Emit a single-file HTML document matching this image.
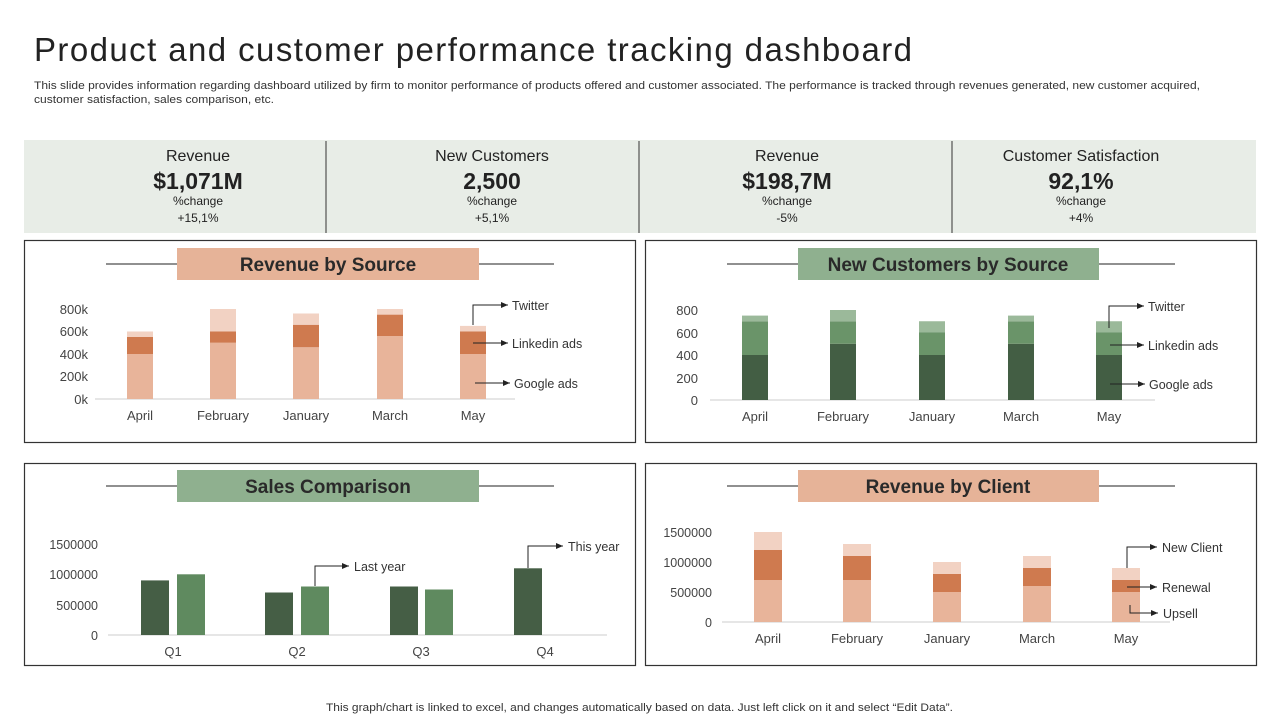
<!DOCTYPE html>
<html><head><meta charset="utf-8"><style>
body{margin:0;background:#fff;}
svg{display:block;font-family:"Liberation Sans",sans-serif;}
</style></head><body>
<svg width="1280" height="720" viewBox="0 0 1280 720" xmlns="http://www.w3.org/2000/svg">
<defs><marker id="ar" markerWidth="8" markerHeight="8" refX="7" refY="4" orient="auto" markerUnits="userSpaceOnUse"><path d="M0,1 L7,4 L0,7 Z" fill="#222"/></marker></defs>
<text x="34" y="61" font-size="33" fill="#222" textLength="878" lengthAdjust="spacing">Product and customer performance tracking dashboard</text>
<text x="34" y="89" font-size="11" fill="#333" textLength="1166" lengthAdjust="spacingAndGlyphs">This slide provides information regarding dashboard utilized by firm to  monitor performance of products offered and customer associated. The performance is tracked through revenues generated, new customer acquired,</text>
<text x="34" y="103" font-size="11" fill="#333" textLength="240" lengthAdjust="spacingAndGlyphs">customer satisfaction, sales comparison, etc.</text>
<rect x="24" y="140" width="1232" height="93" fill="#e8ede7"/>
<g stroke="#333" stroke-width="1"><line x1="326" y1="141" x2="326" y2="233"/><line x1="639" y1="141" x2="639" y2="233"/><line x1="952" y1="141" x2="952" y2="233"/></g>
<g text-anchor="middle" fill="#222">
<text x="198" y="161" font-size="16">Revenue</text><text x="198" y="189" font-size="23" font-weight="bold">$1,071M</text><text x="198" y="205" font-size="12">%change</text><text x="198" y="222" font-size="12">+15,1%</text>
<text x="492" y="161" font-size="16">New Customers</text><text x="492" y="189" font-size="23" font-weight="bold">2,500</text><text x="492" y="205" font-size="12">%change</text><text x="492" y="222" font-size="12">+5,1%</text>
<text x="787" y="161" font-size="16">Revenue</text><text x="787" y="189" font-size="23" font-weight="bold">$198,7M</text><text x="787" y="205" font-size="12">%change</text><text x="787" y="222" font-size="12">-5%</text>
<text x="1081" y="161" font-size="16">Customer Satisfaction</text><text x="1081" y="189" font-size="23" font-weight="bold">92,1%</text><text x="1081" y="205" font-size="12">%change</text><text x="1081" y="222" font-size="12">+4%</text>
</g>
<g fill="none" stroke="#333" stroke-width="1.2">
<rect x="24.5" y="240.5" width="611" height="202"/><rect x="645.5" y="240.5" width="611" height="202"/>
<rect x="24.5" y="463.5" width="611" height="202"/><rect x="645.5" y="463.5" width="611" height="202"/>
</g>
<g stroke="#222" stroke-width="1">
<line x1="106" y1="264" x2="190" y2="264"/><line x1="473" y1="264" x2="554" y2="264"/>
<line x1="727" y1="264" x2="811" y2="264"/><line x1="1094" y1="264" x2="1175" y2="264"/>
<line x1="106" y1="486" x2="190" y2="486"/><line x1="473" y1="486" x2="554" y2="486"/>
<line x1="727" y1="486" x2="811" y2="486"/><line x1="1094" y1="486" x2="1175" y2="486"/>
</g>
<rect x="177" y="248" width="302" height="32" fill="#e6b398"/>
<rect x="798" y="248" width="301" height="32" fill="#8fb08f"/>
<rect x="177" y="470" width="302" height="32" fill="#8fb08f"/>
<rect x="798" y="470" width="301" height="32" fill="#e6b398"/>
<g text-anchor="middle" font-size="19" font-weight="bold" fill="#2a2a2a">
<text x="328" y="271">Revenue by Source</text><text x="948" y="271">New Customers by Source</text>
<text x="328" y="493">Sales Comparison</text><text x="948" y="493">Revenue by Client</text>
</g>
<g font-size="13" fill="#444" text-anchor="end">
<text x="88" y="314">800k</text><text x="88" y="336">600k</text><text x="88" y="359">400k</text><text x="88" y="381">200k</text><text x="88" y="404">0k</text>
</g>
<line x1="95" y1="399" x2="515" y2="399" stroke="#ccc"/>
<g>
<rect x="127" y="354" width="26" height="45" fill="#e8b49a"/><rect x="127" y="337" width="26" height="17" fill="#cf7a4f"/><rect x="127" y="331.5" width="26" height="5.5" fill="#f2d2c3"/>
<rect x="210" y="342.75" width="26" height="56.25" fill="#e8b49a"/><rect x="210" y="331.5" width="26" height="11.25" fill="#cf7a4f"/><rect x="210" y="309" width="26" height="22.5" fill="#f2d2c3"/>
<rect x="293" y="347.25" width="26" height="51.75" fill="#e8b49a"/><rect x="293" y="324.75" width="26" height="22.5" fill="#cf7a4f"/><rect x="293" y="313.5" width="26" height="11.25" fill="#f2d2c3"/>
<rect x="377" y="336" width="26" height="63" fill="#e8b49a"/><rect x="377" y="314.6" width="26" height="21.4" fill="#cf7a4f"/><rect x="377" y="309" width="26" height="5.6" fill="#f2d2c3"/>
<rect x="460" y="354" width="26" height="45" fill="#e8b49a"/><rect x="460" y="331.5" width="26" height="22.5" fill="#cf7a4f"/><rect x="460" y="325.9" width="26" height="5.6" fill="#f2d2c3"/>
</g>
<g font-size="13" fill="#444" text-anchor="middle"><text x="140" y="420">April</text><text x="223" y="420">February</text><text x="306" y="420">January</text><text x="390" y="420">March</text><text x="473" y="420">May</text></g>
<g stroke="#222" stroke-width="1" fill="none" marker-end="url(#ar)">
<polyline points="473,325 473,305 508,305"/><line x1="473" y1="343" x2="508" y2="343"/><line x1="475" y1="383" x2="510" y2="383"/>
</g>
<g font-size="12.5" fill="#333"><text x="512" y="310">Twitter</text><text x="512" y="348">Linkedin ads</text><text x="514" y="388">Google ads</text></g>
<g font-size="13" fill="#444" text-anchor="end">
<text x="698" y="315">800</text><text x="698" y="338">600</text><text x="698" y="360">400</text><text x="698" y="383">200</text><text x="698" y="405">0</text>
</g>
<line x1="710" y1="400" x2="1155" y2="400" stroke="#ccc"/>
<g>
<rect x="742" y="355" width="26" height="45" fill="#435e44"/><rect x="742" y="321.25" width="26" height="33.75" fill="#6a9469"/><rect x="742" y="315.6" width="26" height="5.65" fill="#9bb99a"/>
<rect x="830" y="343.75" width="26" height="56.25" fill="#435e44"/><rect x="830" y="321.25" width="26" height="22.5" fill="#6a9469"/><rect x="830" y="310" width="26" height="11.25" fill="#9bb99a"/>
<rect x="919" y="355" width="26" height="45" fill="#435e44"/><rect x="919" y="332.5" width="26" height="22.5" fill="#6a9469"/><rect x="919" y="321.25" width="26" height="11.25" fill="#9bb99a"/>
<rect x="1008" y="343.75" width="26" height="56.25" fill="#435e44"/><rect x="1008" y="321.25" width="26" height="22.5" fill="#6a9469"/><rect x="1008" y="315.6" width="26" height="5.65" fill="#9bb99a"/>
<rect x="1096" y="355" width="26" height="45" fill="#435e44"/><rect x="1096" y="332.5" width="26" height="22.5" fill="#6a9469"/><rect x="1096" y="321.25" width="26" height="11.25" fill="#9bb99a"/>
</g>
<g font-size="13" fill="#444" text-anchor="middle"><text x="755" y="421">April</text><text x="843" y="421">February</text><text x="932" y="421">January</text><text x="1021" y="421">March</text><text x="1109" y="421">May</text></g>
<g stroke="#222" stroke-width="1" fill="none" marker-end="url(#ar)">
<polyline points="1109,328 1109,306 1144,306"/><line x1="1110" y1="345" x2="1144" y2="345"/><line x1="1110" y1="384" x2="1145" y2="384"/>
</g>
<g font-size="12.5" fill="#333"><text x="1148" y="311">Twitter</text><text x="1148" y="350">Linkedin ads</text><text x="1149" y="389">Google ads</text></g>
<g font-size="12.5" fill="#444" text-anchor="end">
<text x="98" y="549">1500000</text><text x="98" y="579">1000000</text><text x="98" y="610">500000</text><text x="98" y="640">0</text>
</g>
<line x1="108" y1="635" x2="607" y2="635" stroke="#ccc"/>
<g>
<rect x="141" y="580.4" width="28" height="54.6" fill="#455e45"/><rect x="177" y="574.3" width="28" height="60.7" fill="#5f8a5f"/>
<rect x="265" y="592.5" width="28" height="42.5" fill="#455e45"/><rect x="301" y="586.5" width="28" height="48.5" fill="#5f8a5f"/>
<rect x="390" y="586.5" width="28" height="48.5" fill="#455e45"/><rect x="425" y="589.5" width="28" height="45.5" fill="#5f8a5f"/>
<rect x="514" y="568.3" width="28" height="66.7" fill="#455e45"/>
</g>
<g font-size="13" fill="#444" text-anchor="middle"><text x="173" y="656">Q1</text><text x="297" y="656">Q2</text><text x="421" y="656">Q3</text><text x="545" y="656">Q4</text></g>
<g stroke="#222" stroke-width="1" fill="none" marker-end="url(#ar)">
<polyline points="315,586 315,566 349,566"/><polyline points="528,568 528,546 563,546"/>
</g>
<g font-size="12.5" fill="#333"><text x="354" y="571">Last year</text><text x="568" y="551">This year</text></g>
<g font-size="12.5" fill="#444" text-anchor="end">
<text x="712" y="537">1500000</text><text x="712" y="567">1000000</text><text x="712" y="597">500000</text><text x="712" y="627">0</text>
</g>
<line x1="722" y1="622" x2="1170" y2="622" stroke="#ccc"/>
<g>
<rect x="754" y="580" width="28" height="42" fill="#e8b49a"/><rect x="754" y="550" width="28" height="30" fill="#cf7a4f"/><rect x="754" y="532" width="28" height="18" fill="#f2d2c3"/>
<rect x="843" y="580" width="28" height="42" fill="#e8b49a"/><rect x="843" y="556" width="28" height="24" fill="#cf7a4f"/><rect x="843" y="544" width="28" height="12" fill="#f2d2c3"/>
<rect x="933" y="592" width="28" height="30" fill="#e8b49a"/><rect x="933" y="574" width="28" height="18" fill="#cf7a4f"/><rect x="933" y="562" width="28" height="12" fill="#f2d2c3"/>
<rect x="1023" y="586" width="28" height="36" fill="#e8b49a"/><rect x="1023" y="568" width="28" height="18" fill="#cf7a4f"/><rect x="1023" y="556" width="28" height="12" fill="#f2d2c3"/>
<rect x="1112" y="592" width="28" height="30" fill="#e8b49a"/><rect x="1112" y="580" width="28" height="12" fill="#cf7a4f"/><rect x="1112" y="568" width="28" height="12" fill="#f2d2c3"/>
</g>
<g font-size="13" fill="#444" text-anchor="middle"><text x="768" y="643">April</text><text x="857" y="643">February</text><text x="947" y="643">January</text><text x="1037" y="643">March</text><text x="1126" y="643">May</text></g>
<g stroke="#222" stroke-width="1" fill="none" marker-end="url(#ar)">
<polyline points="1127,568 1127,547 1157,547"/><line x1="1127" y1="587" x2="1157" y2="587"/><polyline points="1130,605 1130,613 1158,613"/>
</g>
<g font-size="12.5" fill="#333"><text x="1162" y="552">New Client</text><text x="1162" y="592">Renewal</text><text x="1163" y="618">Upsell</text></g>
<text x="326" y="711" font-size="11" fill="#333" textLength="627" lengthAdjust="spacingAndGlyphs">This graph/chart is linked to excel,  and changes automatically based on data. Just left click on it and select “Edit Data”.</text>
</svg>
</body></html>
